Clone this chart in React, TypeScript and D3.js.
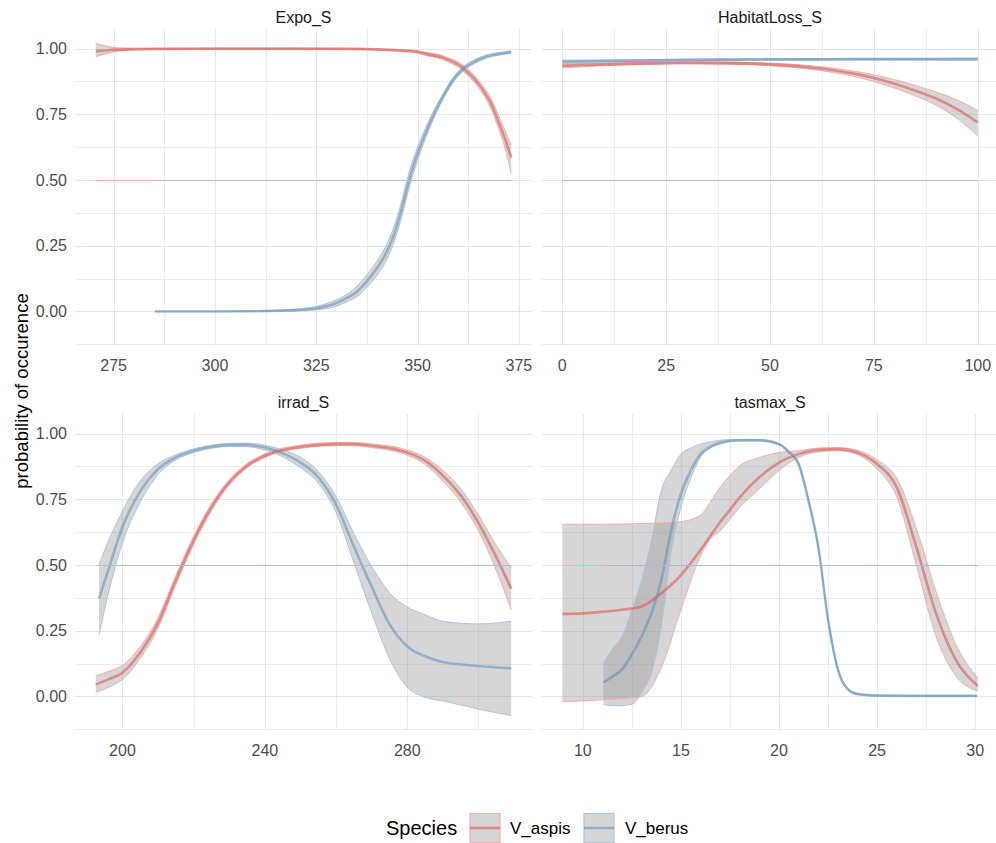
import React from "react";
import * as d3 from "d3";

// ---- Expo_S ----
const expoTicks = [275, 300, 325, 350, 375];
const expoAspisX = [270.6, 273, 276, 280, 285, 300, 320, 335, 340, 345, 350, 352, 356, 358, 360, 362, 364, 366, 368, 370, 371.5, 373.1];
const expoAspisFit = [0.99, 0.993, 0.996, 0.998, 0.999, 1.0, 1.0, 0.999, 0.997, 0.994, 0.988, 0.98, 0.967, 0.955, 0.94, 0.915, 0.885, 0.845, 0.795, 0.72, 0.66, 0.585];
const expoAspisLo = [0.97, 0.98, 0.99, 0.995, 0.997, 0.998, 0.998, 0.997, 0.994, 0.99, 0.983, 0.974, 0.96, 0.946, 0.93, 0.903, 0.872, 0.83, 0.775, 0.695, 0.625, 0.525];
const expoAspisHi = [1.02, 1.01, 1.003, 1.001, 1.0, 1.0, 1.0, 1.0, 0.999, 0.997, 0.992, 0.986, 0.974, 0.963, 0.95, 0.927, 0.898, 0.86, 0.815, 0.745, 0.69, 0.635];
const expoBerusX = [285.2, 300, 310, 316, 320, 325, 330, 333, 335, 337.2, 340, 342, 344, 346, 347.9, 350, 352, 354, 356, 358.5, 361, 364, 367, 370, 373.1];
const expoBerusFit = [0, 0, 0.001, 0.003, 0.005, 0.012, 0.032, 0.055, 0.075, 0.11, 0.165, 0.215, 0.285, 0.385, 0.5, 0.6, 0.68, 0.75, 0.81, 0.875, 0.92, 0.95, 0.97, 0.98, 0.987];
const expoBerusLo = [0, 0, 0, 0.001, 0.002, 0.006, 0.02, 0.04, 0.056, 0.087, 0.138, 0.186, 0.255, 0.355, 0.47, 0.575, 0.66, 0.735, 0.8, 0.865, 0.912, 0.943, 0.964, 0.975, 0.982];
const expoBerusHi = [0.001, 0.001, 0.002, 0.005, 0.009, 0.019, 0.045, 0.07, 0.095, 0.135, 0.192, 0.244, 0.315, 0.415, 0.53, 0.625, 0.7, 0.765, 0.82, 0.885, 0.928, 0.957, 0.976, 0.985, 0.992];

// ---- HabitatLoss_S ----
const habTicks = [0, 25, 50, 75, 100];
const habX = [0, 10, 20, 30, 40, 50, 60, 70, 75, 80, 85, 90, 95, 100];
const habAspisFit = [0.935, 0.94, 0.944, 0.946, 0.945, 0.94, 0.928, 0.905, 0.888, 0.866, 0.84, 0.81, 0.77, 0.72];
const habAspisLo = [0.927, 0.935, 0.94, 0.942, 0.941, 0.935, 0.921, 0.895, 0.875, 0.85, 0.82, 0.785, 0.735, 0.668];
const habAspisHi = [0.943, 0.945, 0.948, 0.95, 0.949, 0.945, 0.935, 0.915, 0.9, 0.882, 0.86, 0.835, 0.805, 0.765];
const habBerusFit = [0.951, 0.953, 0.955, 0.957, 0.958, 0.959, 0.959, 0.96, 0.96, 0.96, 0.96, 0.96, 0.96, 0.96];
const habBerusLo = [0.946, 0.949, 0.952, 0.954, 0.955, 0.956, 0.956, 0.957, 0.957, 0.957, 0.957, 0.957, 0.956, 0.956];
const habBerusHi = [0.956, 0.957, 0.958, 0.96, 0.961, 0.962, 0.962, 0.963, 0.963, 0.963, 0.963, 0.963, 0.964, 0.964];

// ---- irrad_S ----
const irradTicks = [200, 240, 280];
const irradAspisX = [192.5, 196, 200, 205, 210, 215, 220, 225, 230, 235, 240, 250, 260, 265, 270, 280, 285, 290, 295, 300, 305, 309.2];
const irradAspisFit = [0.046, 0.065, 0.09, 0.167, 0.28, 0.443, 0.594, 0.72, 0.815, 0.878, 0.916, 0.95, 0.96, 0.96, 0.954, 0.928, 0.897, 0.84, 0.765, 0.66, 0.53, 0.41];
const irradAspisLo = [0.015, 0.035, 0.065, 0.145, 0.26, 0.425, 0.578, 0.707, 0.805, 0.87, 0.909, 0.944, 0.954, 0.954, 0.947, 0.918, 0.883, 0.82, 0.74, 0.63, 0.48, 0.33];
const irradAspisHi = [0.078, 0.095, 0.118, 0.19, 0.3, 0.46, 0.61, 0.733, 0.825, 0.886, 0.923, 0.956, 0.966, 0.966, 0.961, 0.938, 0.91, 0.86, 0.79, 0.69, 0.575, 0.49];
const irradBerusX = [193.4, 196, 200, 205, 210, 215, 220, 225, 230, 235, 240, 245, 250, 255, 260, 265, 270, 275, 280, 285, 290, 300, 309.2];
const irradBerusFit = [0.372, 0.48, 0.645, 0.78, 0.865, 0.91, 0.935, 0.95, 0.957, 0.957, 0.947, 0.925, 0.89, 0.834, 0.73, 0.57, 0.418, 0.275, 0.19, 0.153, 0.131, 0.116, 0.107];
const irradBerusLo = [0.235, 0.39, 0.585, 0.74, 0.845, 0.9, 0.928, 0.944, 0.951, 0.95, 0.938, 0.912, 0.87, 0.812, 0.7, 0.51, 0.318, 0.145, 0.035, -0.003, -0.017, -0.048, -0.073];
const irradBerusHi = [0.5, 0.59, 0.705, 0.82, 0.885, 0.92, 0.942, 0.956, 0.963, 0.964, 0.956, 0.938, 0.91, 0.856, 0.76, 0.62, 0.494, 0.395, 0.34, 0.311, 0.286, 0.276, 0.286];

// ---- tasmax_S ----
const tasTicks = [10, 15, 20, 25, 30];
const tasAspisX = [8.95, 10, 11, 12, 13, 14, 15, 16, 16.5, 17, 17.5, 18, 19, 20, 21, 22, 23, 24, 25, 26, 27, 28, 29, 30.13];
const tasAspisFit = [0.314, 0.316, 0.322, 0.33, 0.342, 0.393, 0.462, 0.557, 0.61, 0.664, 0.71, 0.758, 0.834, 0.89, 0.922, 0.938, 0.941, 0.928, 0.884, 0.796, 0.569, 0.317, 0.141, 0.04];
const tasAspisLo = [-0.02, -0.017, -0.013, -0.008, 0.0, 0.11, 0.33, 0.535, 0.6, 0.63, 0.675, 0.72, 0.79, 0.86, 0.91, 0.93, 0.935, 0.92, 0.865, 0.76, 0.5, 0.23, 0.08, 0.02];
const tasAspisHi = [0.655, 0.655, 0.655, 0.656, 0.658, 0.66, 0.665, 0.69, 0.74, 0.796, 0.84, 0.878, 0.909, 0.928, 0.935, 0.945, 0.947, 0.937, 0.9, 0.83, 0.64, 0.4, 0.2, 0.07];
const tasBerusX = [11.05, 11.5, 12, 12.5, 13, 13.5, 14, 14.5, 15, 15.5, 16, 16.5, 17, 18, 19, 20, 20.5, 21, 21.5, 22, 22.5, 23, 23.5, 24, 25, 27, 30.1];
const tasBerusFit = [0.053, 0.075, 0.103, 0.16, 0.229, 0.317, 0.443, 0.632, 0.771, 0.859, 0.922, 0.95, 0.966, 0.975, 0.975, 0.96, 0.93, 0.884, 0.746, 0.569, 0.292, 0.103, 0.028, 0.009, 0.003, 0.002, 0.002];
const tasBerusLo = [-0.03, -0.035, -0.035, -0.03, 0.015, 0.09, 0.267, 0.55, 0.72, 0.83, 0.91, 0.945, 0.96, 0.972, 0.972, 0.957, 0.926, 0.879, 0.74, 0.562, 0.286, 0.098, 0.025, 0.006, 0.001, 0.0, 0.0];
const tasBerusHi = [0.128, 0.18, 0.229, 0.33, 0.443, 0.594, 0.783, 0.859, 0.922, 0.945, 0.96, 0.968, 0.975, 0.978, 0.978, 0.963, 0.934, 0.889, 0.752, 0.576, 0.298, 0.108, 0.031, 0.012, 0.005, 0.004, 0.004];

const yTicks = [0, 0.25, 0.5, 0.75, 1.0];
const species = ["V_aspis", "V_berus"];

type Curve = { x: number[]; fit: number[]; lo: number[]; hi: number[] };
type Panel = { title: string; ticks: number[]; curves: Curve[] };

const panels: Panel[] = [
  { title: "Expo_S", ticks: expoTicks, curves: [
    { x: expoAspisX, fit: expoAspisFit, lo: expoAspisLo, hi: expoAspisHi },
    { x: expoBerusX, fit: expoBerusFit, lo: expoBerusLo, hi: expoBerusHi }] },
  { title: "HabitatLoss_S", ticks: habTicks, curves: [
    { x: habX, fit: habAspisFit, lo: habAspisLo, hi: habAspisHi },
    { x: habX, fit: habBerusFit, lo: habBerusLo, hi: habBerusHi }] },
  { title: "irrad_S", ticks: irradTicks, curves: [
    { x: irradAspisX, fit: irradAspisFit, lo: irradAspisLo, hi: irradAspisHi },
    { x: irradBerusX, fit: irradBerusFit, lo: irradBerusLo, hi: irradBerusHi }] },
  { title: "tasmax_S", ticks: tasTicks, curves: [
    { x: tasAspisX, fit: tasAspisFit, lo: tasAspisLo, hi: tasAspisHi },
    { x: tasBerusX, fit: tasBerusFit, lo: tasBerusLo, hi: tasBerusHi }] },
];

// styles
const lineCol = ["#e0605a", "#5f8fb8"];
const edgeCol = ["#f7aca7", "#a8c5df"];
const hCol = ["#f7b0ab", "#a3c0dc"];
const FONT = "'Liberation Sans', Arial, sans-serif";

const W = 996, H = 843;
const PW = 457, PH = 316;
const cols = [75, 541.5];
const rows = [29, 414];

function expand(lo: number, hi: number): [number, number] {
  const d = (hi - lo) * 0.05;
  return [lo - d, hi + d];
}

const allLo = d3.min(panels.flatMap(p => p.curves.flatMap(c => c.lo))) as number;
const allHi = d3.max(panels.flatMap(p => p.curves.flatMap(c => c.hi))) as number;
const yDomain = expand(allLo, allHi);

function minorTicks(major: number[], dom: [number, number]) {
  const step = major[1] - major[0];
  const out: number[] = [];
  const start = major[0] - step / 2;
  for (let v = start; v <= dom[1]; v += step) if (v >= dom[0]) out.push(v);
  return out;
}

const snap = (v: number) => Math.round(v) + 0.5;

function PanelView({ p, idx }: { p: Panel; idx: number }) {
  const left = cols[idx % 2];
  const top = rows[Math.floor(idx / 2)];
  const xs = p.curves.flatMap(c => c.x);
  const xDom = expand(d3.min(xs) as number, d3.max(xs) as number);
  const x = d3.scaleLinear().domain(xDom).range([left, left + PW]);
  const y = d3.scaleLinear().domain(yDomain).range([top + PH, top]);
  const xMinor = minorTicks(p.ticks, xDom);
  const yMinor = minorTicks(yTicks, yDomain);
  const yHalf = snap(y(0.5));

  const area = (c: Curve) =>
    d3.area<number>()
      .x((_, i) => x(c.x[i]))
      .y0((_, i) => y(c.lo[i]))
      .y1((_, i) => y(c.hi[i]))
      .curve(d3.curveMonotoneX)(c.x) as string;
  const line = (c: Curve, key: "fit" | "lo" | "hi") =>
    d3.line<number>()
      .x((_, i) => x(c.x[i]))
      .y((_, i) => y(c[key][i]))
      .curve(d3.curveMonotoneX)(c.x) as string;

  return (
    <g>
      {/* grid */}
      {yMinor.map(v => (
        <line key={"ym" + v} x1={left} x2={left + PW} y1={snap(y(v))} y2={snap(y(v))} stroke="#ececec" strokeWidth={1} />
      ))}
      {xMinor.map(v => (
        <line key={"xm" + v} x1={snap(x(v))} x2={snap(x(v))} y1={top} y2={top + PH} stroke="#ececec" strokeWidth={1} />
      ))}
      {yTicks.filter(v => v !== 0.5).map(v => (
        <line key={"y" + v} x1={left} x2={left + PW} y1={snap(y(v))} y2={snap(y(v))} stroke="#e6e6e6" strokeWidth={1} />
      ))}
      {p.ticks.map(v => (
        <line key={"x" + v} x1={snap(x(v))} x2={snap(x(v))} y1={top} y2={top + PH} stroke="#e6e6e6" strokeWidth={1} />
      ))}
      {/* 0.5 major gridline, hidden under the reference lines where they run */}
      <line x1={left} x2={left + PW} y1={yHalf} y2={yHalf} stroke="#e6e6e6" strokeWidth={1} />

      {/* ribbons */}
      {p.curves.map((c, i) => (
        <path key={"a" + i} d={area(c)} fill="#999999" fillOpacity={0.4} stroke="none" />
      ))}
      {p.curves.map((c, i) => (
        <g key={"e" + i} fill="none" stroke={edgeCol[i]} strokeWidth={1}>
          <path d={line(c, "lo")} />
          <path d={line(c, "hi")} />
        </g>
      ))}
      {p.curves.map((c, i) => (
        <path key={"f" + i} d={line(c, "fit")} fill="none" stroke={lineCol[i]} strokeOpacity={i === 0 ? 0.65 : 0.55} strokeWidth={2.6} />
      ))}
      {/* 0.5 reference lines per species */}
      {p.curves.map((c, i) => (
        <line key={"h" + i} x1={x(c.x[0])} x2={x(c.x[c.x.length - 1])} y1={yHalf} y2={yHalf} stroke={hCol[i]} strokeWidth={1.2} />
      ))}

      {/* strip */}
      <text x={left + PW / 2} y={top - 12} textAnchor="middle" dominantBaseline="central" fontSize={16} fill="#1a1a1a">{p.title}</text>

      {/* x ticks */}
      {p.ticks.map(v => (
        <text key={"t" + v} x={x(v)} y={top + PH + 20} textAnchor="middle" dominantBaseline="central" fontSize={16} fill="#4d4d4d">{v}</text>
      ))}
      {/* y ticks (left column only) */}
      {idx % 2 === 0 && yTicks.map(v => (
        <text key={"yt" + v} x={67} y={y(v)} textAnchor="end" dominantBaseline="central" fontSize={16} fill="#4d4d4d">{v.toFixed(2)}</text>
      ))}
    </g>
  );
}

export default function App() {
  const legY = 828;
  const keys = [470, 584];
  const labels = [510, 625];
  return (
    <svg width={W} height={H} style={{ position: "absolute", left: 0, top: 0, background: "#fff" }} fontFamily={FONT}>
      <rect width={W} height={H} fill="#fff" />
      {panels.map((p, i) => <PanelView key={p.title} p={p} idx={i} />)}
      <text transform="translate(21,391) rotate(-90)" textAnchor="middle" dominantBaseline="central" fontSize={18.5} fill="#000">probability of occurence</text>

      {/* legend */}
      <text x={386} y={legY} dominantBaseline="central" fontSize={20} fill="#000">Species</text>
      {species.map((s, i) => (
        <g key={s}>
          <rect x={keys[i]} y={legY - 14.5} width={30} height={29} fill="#999999" fillOpacity={0.4} stroke={edgeCol[i]} strokeWidth={1.2} />
          <line x1={keys[i]} x2={keys[i] + 30} y1={legY} y2={legY} stroke={lineCol[i]} strokeOpacity={i === 0 ? 0.65 : 0.55} strokeWidth={2.6} />
          <text x={labels[i]} y={legY} dominantBaseline="central" fontSize={17} fill="#000">{s}</text>
        </g>
      ))}
    </svg>
  );
}
